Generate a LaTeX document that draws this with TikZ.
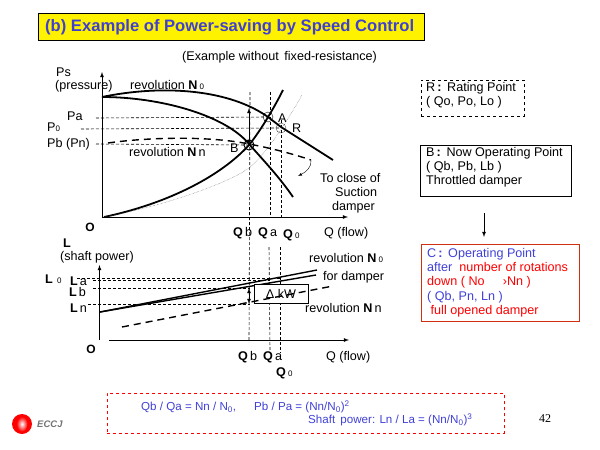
\documentclass[tikz,border=0pt]{standalone}
\usepackage{fontspec}
\setmainfont{Liberation Sans}
\newfontfamily\pagefont{Liberation Serif}
\definecolor{titleblue}{RGB}{64,64,208}
\definecolor{textblue}{RGB}{64,64,216}
\definecolor{boxred}{RGB}{208,48,16}
\newcommand{\zr}{{\footnotesize 0}}
\begin{document}
\begin{tikzpicture}[x=1pt,y=-1pt,font=\fontsize{12.6}{14.3}\selectfont,
  lab/.style={inner sep=0pt},
  guide/.style={line width=0.6pt,dash pattern=on 3pt off 2pt},
  curve/.style={line width=1.8pt},
  dashcurve/.style={line width=1.4pt,dash pattern=on 7pt off 5pt},
  axis/.style={->,>=latex},
  point/.style={draw,circle,inner sep=0pt,minimum size=10pt},
  note/.style={draw,anchor=north west,align=left,inner sep=0pt}]

\useasboundingbox (0,0) rectangle (600,450);

\node[draw,fill=yellow,line width=0.8pt,minimum width=386pt,minimum height=27pt,anchor=north west,inner sep=0pt] (titlebox) at (38,13) {};
\node[lab,text=titleblue,anchor=west,font=\fontsize{16.6}{19}\bfseries\selectfont] (title) at (45,27) {(b) Example of Power-saving by Speed Control};
\node[lab,anchor=west] (subtitle) at (182,57) {(Example without\, fixed-resistance)};

\coordinate (o1) at (102,217);
\coordinate (ytop1) at (102,72);
\coordinate (xend1) at (348,217);
\draw[axis,thick] (o1) -- (ytop1);
\draw[axis,thick] (o1) -- (xend1);

\node[point] (A) at (268,117) {};
\node[point,black!70] (R) at (281,128) {};
\node[point,line width=1pt] (B) at (249,145) {};

\coordinate (pa) at (96,118);
\coordinate (p0) at (81,129);
\coordinate (pb) at (96,144);
\coordinate (qbtop) at (250,92);
\coordinate (qatop) at (270,92);
\coordinate (q0top) at (281,120);
\coordinate (qbbot) at (249,342);
\coordinate (qabot) at (270,350);
\coordinate (q0bot) at (280,353);
\coordinate (qamid) at (270,218);
\coordinate (q0mid) at (281,218);
\coordinate (qalow) at (269,247);
\coordinate (q0low) at (280,247);

\draw[guide] (pa) -- (A.center);
\draw[guide] (p0) -- (R.center);
\draw[guide] (pb) -- (B.center);
\draw[guide] (qbtop) -- (qbbot);
\draw[guide] (qatop) -- (qamid);
\draw[guide] (q0top) -- (q0mid);
\draw[guide] (qalow) -- (qabot);
\draw[guide] (q0low) -- (q0bot);

\coordinate (n0start) at (102,97);
\coordinate (n0end) at (333,160);
\coordinate (thrend) at (293,197);
\coordinate (sysstart) at (104,217);
\coordinate (sysend) at (283,90);
\coordinate (dotend) at (302,95);
\coordinate (nnstart) at (108,143);
\coordinate (nnend) at (311,160);
\coordinate (closeend) at (298,176);

\draw[curve] (n0start) .. controls (165,84) and (230,90) .. (268,117) -- (281,127) -- (n0end);
\draw[curve] (n0start) .. controls (160,97) and (225,115) .. (249,144) .. controls (265,162) and (280,178) .. (thrend);
\draw[curve] (sysstart) .. controls (170,203) and (222,175) .. (B.center) .. controls (258,134) and (272,112) .. (sysend);
\draw[thin,densely dotted,black!70] (sysstart) .. controls (170,205) and (235,180) .. (250,167) .. controls (265,155) and (285,125) .. (dotend);
\draw[dashcurve] (nnstart) .. controls (150,137) and (210,136) .. (249,144) .. controls (270,148) and (290,153) .. (nnend);
\draw[->,>=latex,thin] (nnend) .. controls (312,167) and (306,172) .. (closeend);
\draw[<->,>=latex,thick] (249,108) -- (B.center);

\node[lab,anchor=west] (pslab) at (56,72) {Ps};
\node[lab,anchor=west] (presslab) at (55,86) {(pressure)};
\node[lab,anchor=west] (revN0) at (130,85) {revolution \textbf{N}\,\zr};
\node[lab,anchor=west] (palab) at (67,116) {Pa};
\node[lab,anchor=west] (p0lab) at (47,127) {P\zr};
\node[lab,anchor=west] (pblab) at (47,144) {Pb (Pn)};
\node[lab,anchor=west] (revNn) at (129,152) {revolution \textbf{N}\,n};
\node[lab,anchor=west] (Alab) at (278,118) {A};
\node[lab,anchor=west] (Rlab) at (292,128) {R};
\node[lab,anchor=west] (Blab) at (230,148) {B};
\node[lab,anchor=west] (close1) at (320,178) {To close of};
\node[lab,anchor=west] (close2) at (335,192) {Suction};
\node[lab,anchor=west] (close3) at (332,207) {damper};
\node[lab,font=\fontsize{12}{14}\bfseries\selectfont] (o1lab) at (90,227) {O};
\node[lab,anchor=west] (qb1) at (233,233) {\textbf{Q}\,b};
\node[lab,anchor=west] (qa1) at (258,233) {\textbf{Q}\,a};
\node[lab,anchor=west] (q01) at (283,235) {\textbf{Q}\,\zr};
\node[lab,anchor=west] (qf1) at (324,233) {Q (flow)};

\coordinate (o2) at (99.5,340);
\coordinate (ytop2) at (99.5,265);
\coordinate (xstart2) at (109,340);
\coordinate (xend2) at (349,340);
\draw[axis,thick] (o2) -- (ytop2);
\draw[axis,thick] (xstart2) -- (xend2);

\coordinate (l0) at (77,278);
\coordinate (l0e) at (280,278);
\coordinate (la) at (93,280);
\coordinate (lae) at (270,280);
\coordinate (lb) at (93,288);
\coordinate (lbe) at (250,288);
\coordinate (ln) at (88,304);
\coordinate (lne) at (250,304);
\draw[guide] (l0) -- (l0e);
\draw[guide] (la) -- (lae);
\draw[guide] (lb) -- (lbe);
\draw[guide] (ln) -- (lne);

\coordinate (powstart) at (100,312);
\coordinate (powN0) at (317,270);
\coordinate (powdamp) at (316,275);
\coordinate (powNnstart) at (122,327);
\coordinate (powNn) at (333,286);
\draw[line width=1.4pt] (powstart) -- (powN0);
\draw[line width=1.4pt] (powstart) -- (powdamp);

\node[draw,fill=white,minimum width=54pt,minimum height=19pt,inner sep=0pt] (dkw) at (281,293.5) {Δ kW};
\draw[dashcurve] (powNnstart) -- (powNn);
\coordinate (dkwtop) at (249,288);
\coordinate (dkwbot) at (249,304);
\draw[<->,>=latex,thick] (dkwtop) -- (dkwbot);

\node[lab,anchor=west] (lsym) at (63,243) {\textbf{L}};
\node[lab,anchor=west] (shaft) at (60,257) {(shaft power)};
\node[lab,anchor=west] (l0lab) at (45,279) {\textbf{L}\,\,\zr};
\node[lab,anchor=west] (lalab) at (70,281) {\textbf{L}\,a};
\node[lab,anchor=west] (lblab) at (69,292) {\textbf{L}\,b};
\node[lab,anchor=west] (lnlab) at (70,308) {\textbf{L}\,n};
\node[lab,font=\fontsize{12}{14}\bfseries\selectfont] (o2lab) at (91,349) {O};
\node[lab,anchor=west] (revN02) at (309,258) {revolution \textbf{N}\,\zr};
\node[lab,anchor=west] (fordamp) at (323,277) {for damper};
\node[lab,anchor=west] (revNn2) at (305,308) {revolution \textbf{N}\,n};
\node[lab,anchor=west] (qb2) at (238,357) {\textbf{Q}\,b};
\node[lab,anchor=west] (qa2) at (263,357) {\textbf{Q}\,a};
\node[lab,anchor=west] (q02) at (276,373) {\textbf{Q}\,\zr};
\node[lab,anchor=west] (qf2) at (326,357) {Q (flow)};

\node[note,dashed,minimum width=103pt,minimum height=36pt] (Rbox) at (421,80) {};
\node[lab,anchor=north west,align=left] (Rtext) at (426,82) {R\,\textbf{:}\, Rating Point\\( Qo, Po, Lo )};
\node[note,minimum width=151pt,minimum height=51pt,line width=0.7pt] (Bbox) at (420,145) {};
\node[lab,anchor=north west,align=left] (Btext) at (426,147) {B\,\textbf{:}\, Now Operating Point\\( Qb, Pb, Lb )\\Throttled damper};
\node[note,draw=boxred,minimum width=158pt,minimum height=77pt,line width=0.7pt] (Cbox) at (421,244) {};
\node[lab,anchor=north west,align=left] (Ctext) at (427,248) {\textcolor{textblue}{C\,\textbf{:}\, Operating Point}\\\textcolor{textblue}{after}\; \textcolor{red}{number of rotations}\\\textcolor{red}{down ( No \quad\,›Nn )}\\\textcolor{textblue}{( Qb, Pn, Ln )}\\\textcolor{red}{\;full opened damper}};
\coordinate (downtop) at (484,213);
\coordinate (downbot) at (484,237);
\draw[->,>=latex,thick] (downtop) -- (downbot);

\node[note,dashed,draw=red,minimum width=397pt,minimum height=40pt,line width=0.7pt] (eqbox) at (107,393) {};
\node[lab,anchor=west,text=textblue,font=\fontsize{11.6}{14}\selectfont] (eq1) at (141,407) {Qb / Qa = Nn / N\textsubscript{0},\quad\; Pb / Pa = (Nn/N\textsubscript{0})\textsuperscript{2}};
\node[lab,anchor=west,text=textblue,font=\fontsize{11.6}{14}\selectfont] (eq2) at (308,420) {Shaft\, power: Ln / La = (Nn/N\textsubscript{0})\textsuperscript{3}};

\node[circle,fill=red,minimum size=20pt,inner sep=0pt] (logo) at (22,424) {};
\shade[inner color=white,outer color=red] (logo.center) ellipse (5.5pt and 7.5pt);
\node[lab,anchor=west,text=black!55,font=\fontsize{9.5}{11}\bfseries\itshape\selectfont] (eccj) at (37,424) {ECCJ};
\node[lab,font=\fontsize{12}{14}\pagefont\selectfont] (pagenum) at (545,419) {42};

\end{tikzpicture}
\end{document}
